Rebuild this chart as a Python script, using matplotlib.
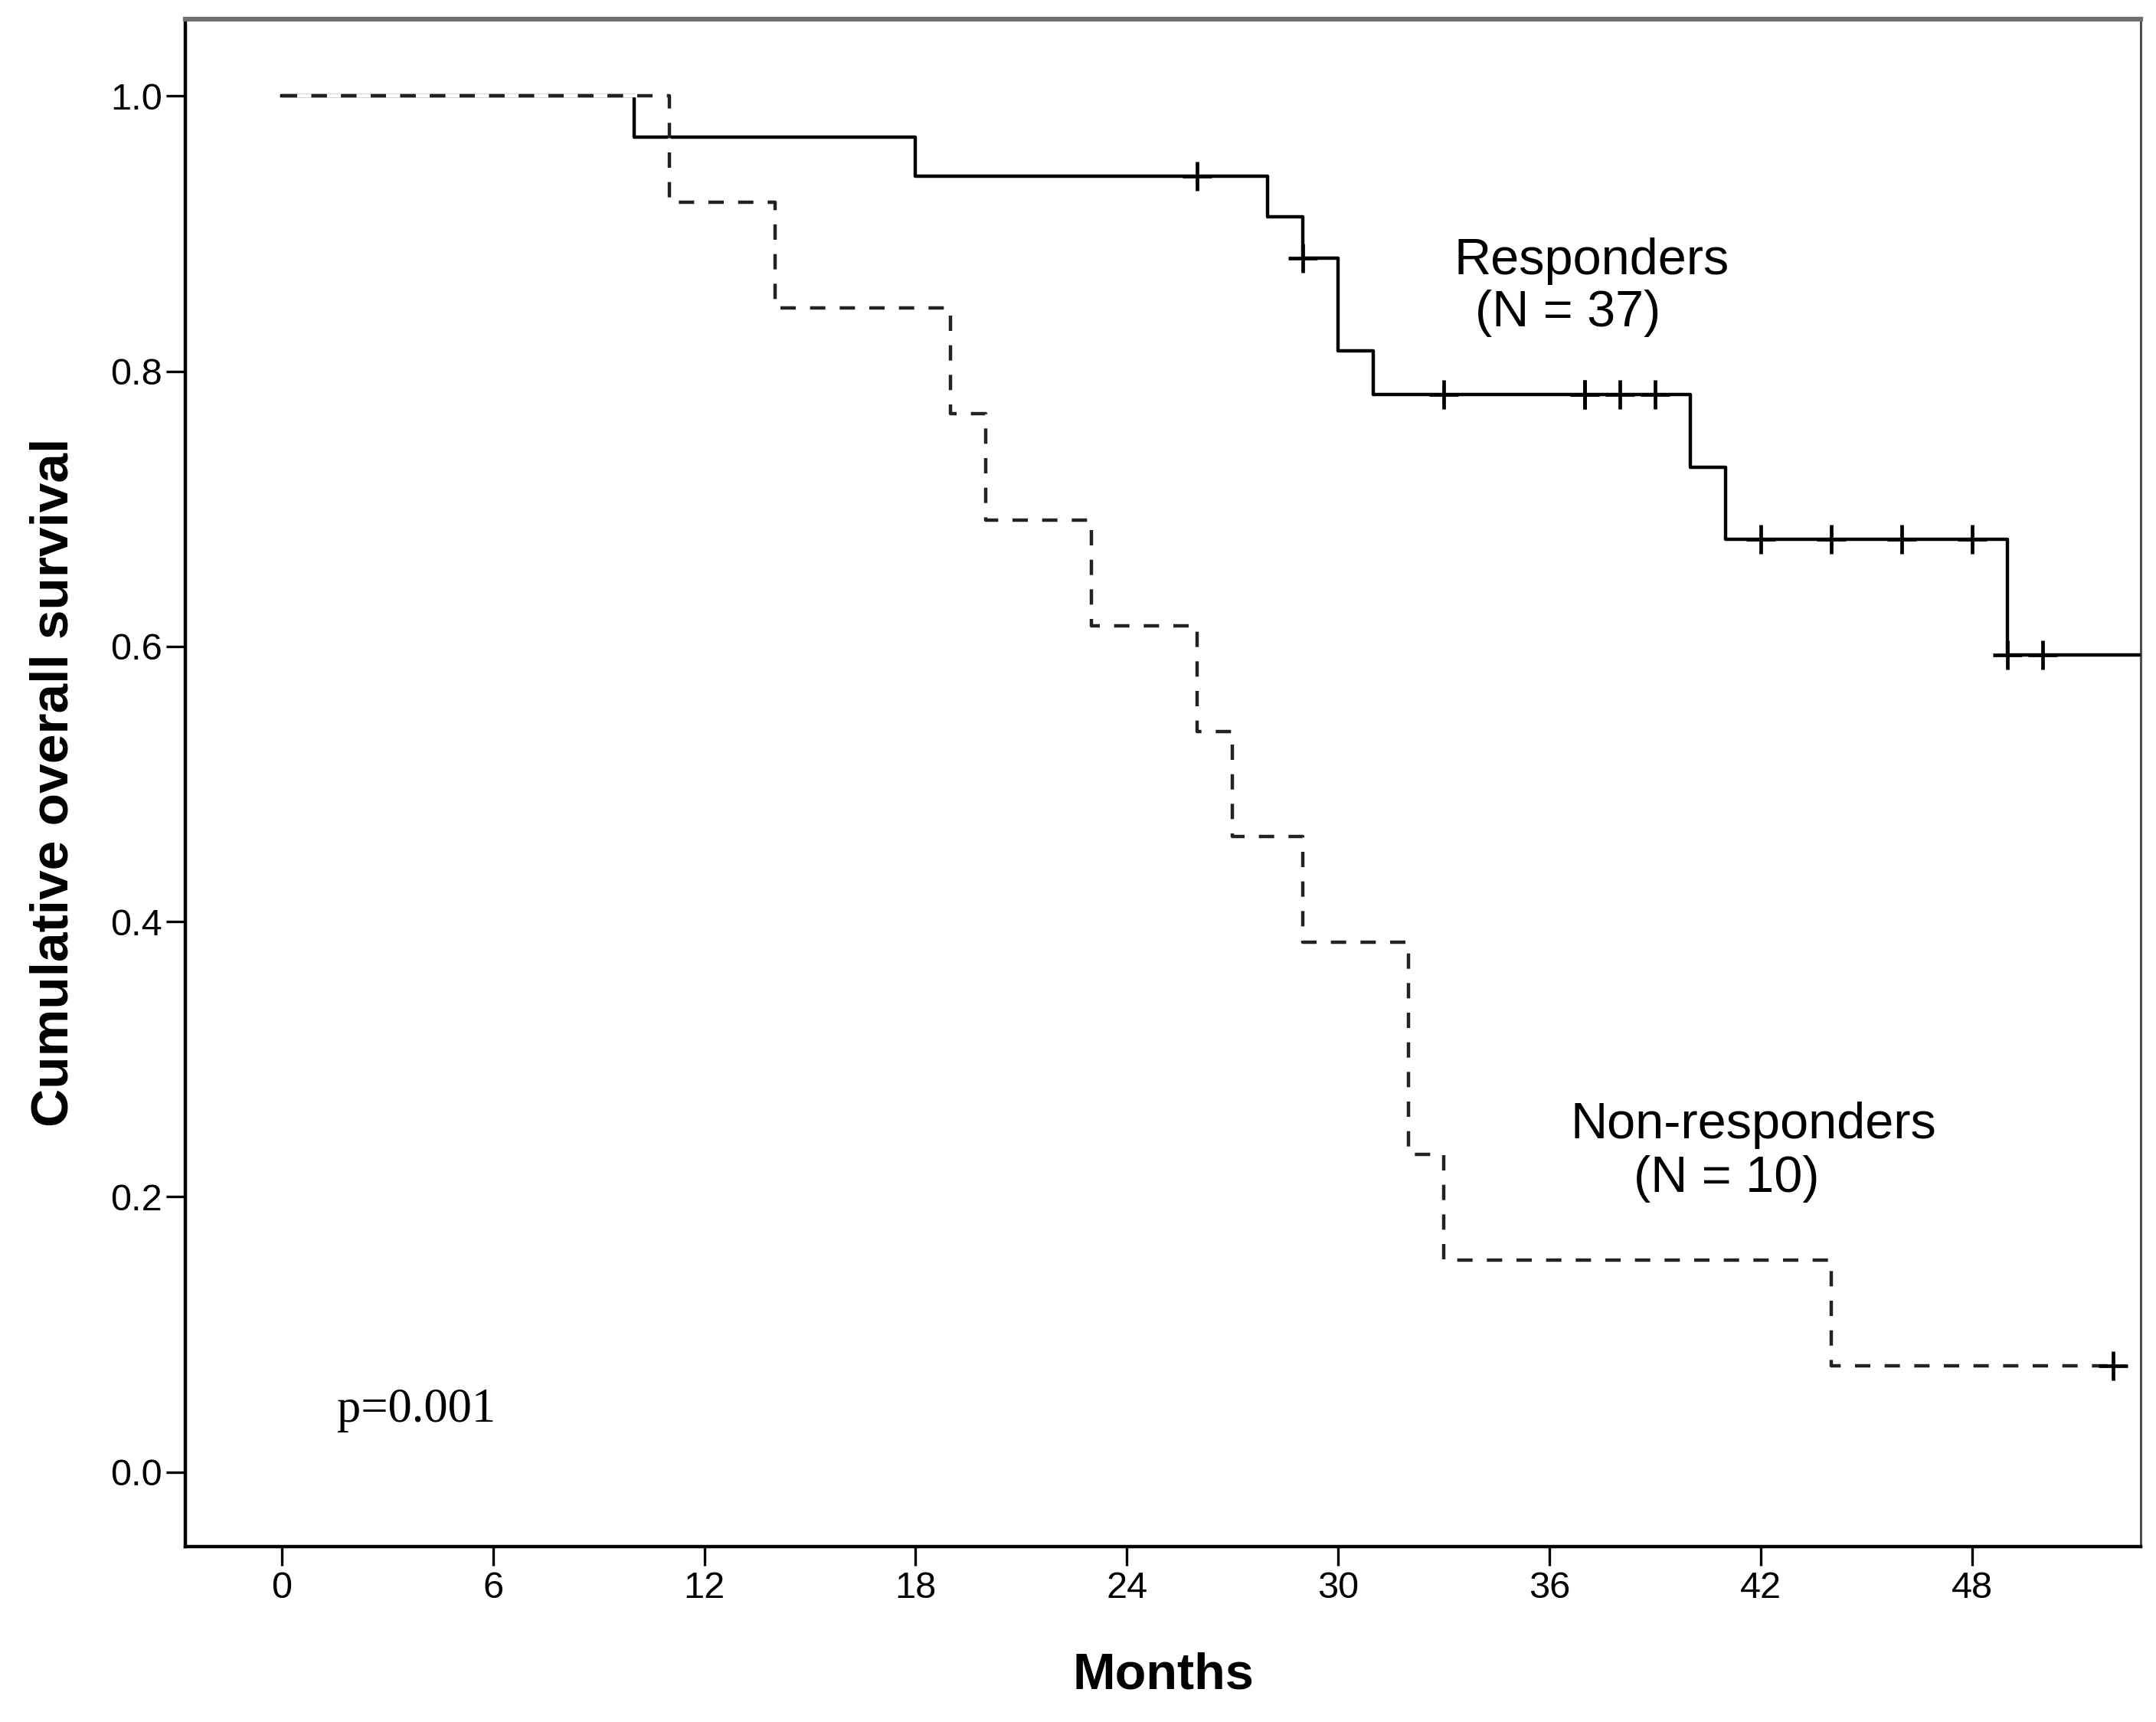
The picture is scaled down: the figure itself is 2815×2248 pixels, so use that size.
import numpy as np
import matplotlib
matplotlib.use("Agg")
import matplotlib.pyplot as plt

# Kaplan-Meier curves
resp_times = [0, 10, 18, 28, 29, 30, 31, 40, 41, 49, 53]
resp_surv = [1.0, 0.97, 0.942, 0.912, 0.882, 0.815, 0.783, 0.73, 0.678, 0.594, 0.594]
resp_censor = [26, 29, 33, 37, 37, 38, 39, 42, 44, 46, 48, 49, 50]

non_times = [0, 11, 14, 19, 20, 23, 26, 27, 29, 32, 33, 44, 52]
non_surv = [1.0, 0.923, 0.846, 0.769, 0.692, 0.615, 0.538, 0.462, 0.385, 0.231, 0.154, 0.077, 0.077]
non_censor = [52]

x_ticks = [0, 6, 12, 18, 24, 30, 36, 42, 48]
y_ticks = [0.0, 0.2, 0.4, 0.6, 0.8, 1.0]


def surv_at(times, surv, t):
    idx = np.searchsorted(times, t, side="right") - 1
    return np.asarray(surv)[idx]


plt.rcParams["font.family"] = ["Liberation Sans", "DejaVu Sans"]

fig = plt.figure(figsize=(28.15, 22.48), dpi=100)
ax = fig.add_axes([0.0861, 0.102, 0.9069, 0.887])

lw = 3.2
ax.step(resp_times, resp_surv, where="post", color="black", lw=lw, zorder=3)
ax.step(non_times, non_surv, where="post", color="#222222", lw=lw,
        linestyle=(0, (4.5, 4.2)), gapcolor="white", zorder=4)

# censor marks
for times, surv, cens in [(resp_times, resp_surv, resp_censor),
                          (non_times, non_surv, non_censor)]:
    cy = surv_at(times, surv, cens)
    ax.plot(cens, cy, linestyle="none", marker="+", markersize=27,
            markeredgewidth=3.4, color="black", zorder=5)

ax.set_xlim(-2.73, 52.8)
ax.set_ylim(-0.054, 1.056)
ax.set_xticks(x_ticks)
ax.set_xticklabels([str(t) for t in x_ticks])
ax.set_yticks(y_ticks)
ax.set_yticklabels([f"{v:.1f}" for v in y_ticks])
ax.tick_params(axis="both", direction="out", length=18, width=2.4,
               labelsize=35, color="black")
ax.tick_params(axis="y", pad=4)
ax.tick_params(axis="x", pad=5)

for side in ["left", "bottom"]:
    ax.spines[side].set_linewidth(3.2)
    ax.spines[side].set_color("black")
ax.spines["top"].set_linewidth(4.5)
ax.spines["top"].set_color("#707070")
ax.spines["right"].set_linewidth(2.2)
ax.spines["right"].set_color("#505050")

ax.set_xlabel("Months", fontsize=48, fontweight="bold", labelpad=44)
ax.set_ylabel("Cumulative overall survival", fontsize=50, fontweight="bold", labelpad=30)

ax.text(33.3, 0.88, "Responders", fontsize=48, va="center", ha="left")
ax.text(33.9, 0.842, "(N = 37)", fontsize=48, va="center", ha="left")
ax.text(36.6, 0.252, "Non-responders", fontsize=48, va="center", ha="left")
ax.text(38.4, 0.213, "(N = 10)", fontsize=48, va="center", ha="left")
ax.text(1.56, 0.045, "p=0.001", fontsize=45, va="center", ha="left",
        family=["Liberation Serif", "DejaVu Serif"])

fig.savefig("out.png", dpi=100, facecolor="white")
plt.close(fig)
